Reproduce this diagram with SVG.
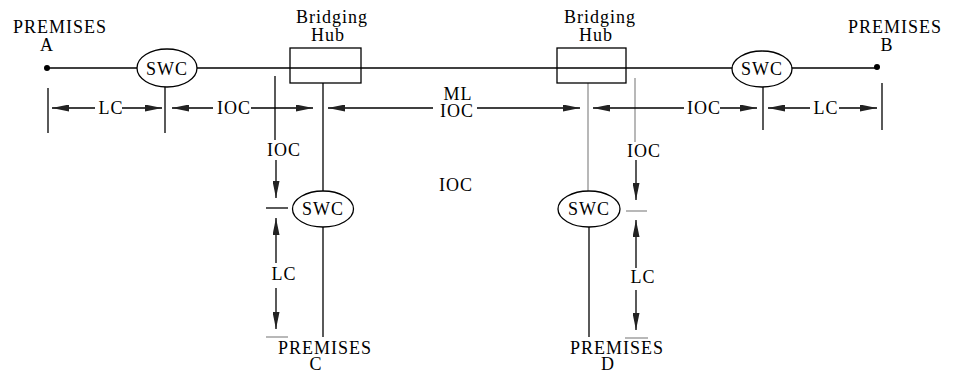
<svg xmlns="http://www.w3.org/2000/svg" width="953" height="374" viewBox="0 0 953 374">
<style>
text{font-family:"Liberation Serif","Times New Roman",serif;font-size:18px;letter-spacing:1px;fill:#000;text-anchor:middle}
.ln{stroke:#000;stroke-width:1.3;fill:none}
.gr{stroke:#a0a0a0;stroke-width:1.5;fill:none}
.ar{marker-end:url(#ah)}
.node{fill:#fff;stroke:#000;stroke-width:1.3}
</style>
<defs>
<marker id="ah" viewBox="0 0 17 7" refX="17" refY="3.5" markerWidth="17" markerHeight="7" markerUnits="userSpaceOnUse" orient="auto">
<path d="M0,0 L17,3.5 L0,7 z" fill="#222"/>
</marker>
</defs>
<rect width="953" height="374" fill="#fff"/>
<g id="connectors">
<line class="ln" x1="47" y1="68" x2="877" y2="68"/>
<line class="ln" x1="48" y1="88" x2="48" y2="133"/>
<line class="ln" x1="165" y1="87" x2="165" y2="133"/>
<line class="ln" x1="275" y1="76" x2="275" y2="140"/>
<line class="ln" x1="323" y1="83" x2="323" y2="191"/>
<line class="ln" x1="323" y1="227" x2="323" y2="337"/>
<line class="gr" x1="588" y1="83" x2="588" y2="191"/>
<line class="ln" x1="589" y1="227" x2="589" y2="337"/>
<line class="gr" x1="635" y1="78" x2="635" y2="142"/>
<line class="ln" x1="763" y1="87" x2="763" y2="130"/>
<line class="ln" x1="882" y1="83" x2="882" y2="130"/>
<line class="ln ar" x1="95" y1="108" x2="52" y2="108"/>
<line class="ln ar" x1="122" y1="108" x2="162" y2="108"/>
<line class="ln ar" x1="213" y1="108" x2="172" y2="108"/>
<line class="ln ar" x1="251" y1="108" x2="313" y2="108"/>
<line class="ln ar" x1="433" y1="108" x2="328" y2="108"/>
<line class="ln ar" x1="477" y1="108" x2="580" y2="108"/>
<line class="ln ar" x1="684" y1="108" x2="593" y2="108"/>
<line class="ln ar" x1="720" y1="108" x2="757" y2="108"/>
<line class="ln ar" x1="810" y1="108" x2="768" y2="108"/>
<line class="ln ar" x1="839" y1="108" x2="877" y2="108"/>
<line class="ln ar" x1="276" y1="160" x2="276" y2="198"/>
<line class="ln" x1="266" y1="208" x2="288" y2="208"/>
<line class="ln ar" x1="276" y1="263" x2="276" y2="218"/>
<line class="ln ar" x1="276" y1="288" x2="276" y2="329"/>
<line class="gr" x1="266" y1="337" x2="288" y2="337"/>
<line class="ln ar" x1="636" y1="160" x2="636" y2="200"/>
<line class="gr" x1="626" y1="211" x2="647" y2="211"/>
<line class="ln ar" x1="636" y1="268" x2="636" y2="220"/>
<line class="ln ar" x1="636" y1="290" x2="636" y2="330"/>
<line class="gr" x1="625" y1="338" x2="648" y2="338"/>
</g>
<g id="premA">
<circle cx="47" cy="68" r="3" fill="#000"/>
<text x="60" y="33">PREMISES</text>
<text x="47" y="51">A</text>
</g>
<g id="premB">
<circle cx="877" cy="67" r="3" fill="#000"/>
<text x="895" y="33">PREMISES</text>
<text x="887" y="51">B</text>
</g>
<g id="premC">
<text x="325" y="354">PREMISES</text>
<text x="316" y="370">C</text>
</g>
<g id="premD">
<text x="617" y="354">PREMISES</text>
<text x="608" y="370">D</text>
</g>
<g id="swcA">
<ellipse class="node" cx="167" cy="68" rx="30" ry="19"/>
<text x="167" y="75">SWC</text>
</g>
<g id="swcB">
<ellipse class="node" cx="762" cy="69" rx="30" ry="18"/>
<text x="762" y="75">SWC</text>
</g>
<g id="swcC">
<ellipse class="node" cx="323" cy="209" rx="30.5" ry="18"/>
<text x="323" y="215">SWC</text>
</g>
<g id="swcD">
<ellipse class="node" cx="589" cy="209" rx="31" ry="18"/>
<text x="589" y="215">SWC</text>
</g>
<g id="hub1">
<rect x="290" y="48" width="71" height="35" fill="none" stroke="#000" stroke-width="1.3"/>
<text x="332" y="23">Bridging</text>
<text x="328" y="41">Hub</text>
</g>
<g id="hub2">
<rect x="557" y="48" width="69" height="35" fill="none" stroke="#000" stroke-width="1.3"/>
<text x="600" y="23">Bridging</text>
<text x="596" y="41">Hub</text>
</g>
<g id="labels">
<text x="111" y="114">LC</text>
<text x="234" y="114">IOC</text>
<text x="458" y="100">ML</text>
<text x="457" y="117">IOC</text>
<text x="704" y="114">IOC</text>
<text x="826" y="114">LC</text>
<text x="284" y="156">IOC</text>
<text x="284" y="280">LC</text>
<text x="644" y="157">IOC</text>
<text x="643" y="283">LC</text>
<text x="456" y="191">IOC</text>
</g>
</svg>
